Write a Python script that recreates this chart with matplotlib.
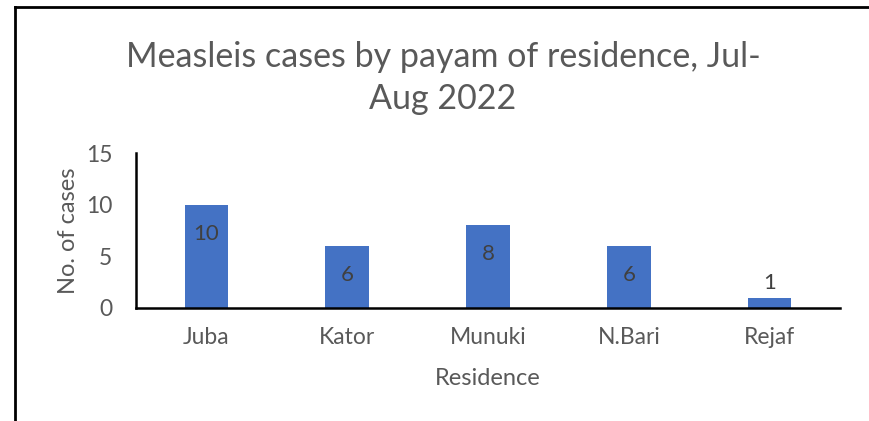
import matplotlib.pyplot as plt
from matplotlib.lines import Line2D

categories = ['Juba', 'Kator', 'Munuki', 'N.Bari', 'Rejaf']
cases = [10, 6, 8, 6, 1]
yticks = [0, 5, 10, 15]

plt.rcParams['font.family'] = ['Lato', 'DejaVu Sans']
grey = '#595959'

fig = plt.figure(figsize=(8.69, 4.21), dpi=100)
ax = fig.add_axes([136 / 869, 1 - 308 / 421, 704 / 869, 155 / 421])

x = range(len(categories))
bars = ax.bar(x, cases, width=0.31, color='#4472C4')
for b, v in zip(bars, cases):
    cx = b.get_x() + b.get_width() / 2
    if v >= 3:
        ax.annotate(str(v), (cx, v), xytext=(0, -29), textcoords='offset pixels',
                    ha='center', va='center', fontsize=16, color='#404040')
    else:
        ax.annotate(str(v), (cx, v), xytext=(0, 15), textcoords='offset pixels',
                    ha='center', va='center', fontsize=16, color='#404040')

ax.set_xlim(-0.5, len(categories) - 0.5)
ax.set_ylim(0, 15)
ax.set_yticks(yticks)
ax.set_xticks(list(x))
ax.set_xticklabels(categories)
ax.tick_params(length=0, labelsize=16.5, labelcolor=grey)
ax.tick_params(axis='y', pad=17)
ax.tick_params(axis='x', pad=14)
for s in ['top', 'right']:
    ax.spines[s].set_visible(False)
for s in ['left', 'bottom']:
    ax.spines[s].set_linewidth(1.8)
    ax.spines[s].set_color('black')

ax.set_ylabel('No. of cases', fontsize=17, color=grey, labelpad=5)
ax.set_xlabel('Residence', fontsize=17, color=grey, labelpad=14)

fig.text(443 / 869, 1 - 78 / 421, 'Measleis cases by payam of residence, Jul-\nAug 2022',
         ha='center', va='center', fontsize=24.5, color=grey, linespacing=1.4)

# outer frame lines (top and left)
fig.add_artist(Line2D([15 / 869, 1], [1 - 7 / 421, 1 - 7 / 421], color='black', lw=2))
fig.add_artist(Line2D([15 / 869, 15 / 869], [0, 1 - 7 / 421], color='black', lw=2))

fig.savefig('out.png', dpi=100)
